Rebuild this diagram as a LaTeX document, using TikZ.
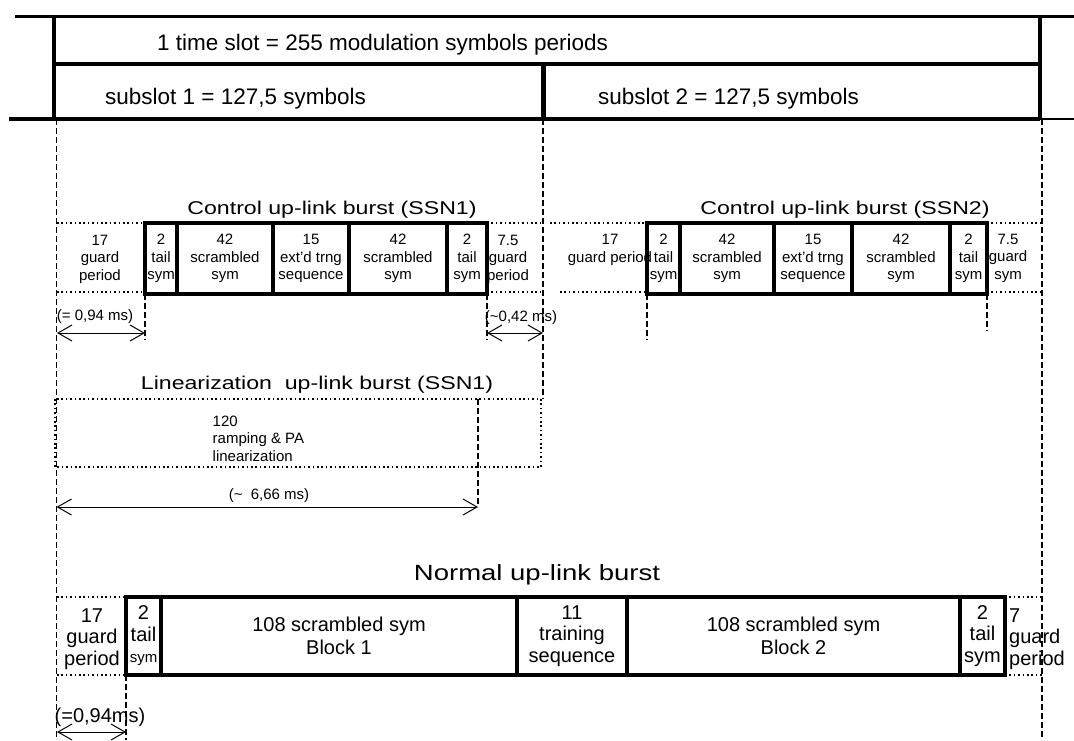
\documentclass[tikz,border=0pt]{standalone}
\usepackage{fontspec}
\setmainfont{Liberation Sans}
\newfontfamily\widefont[FakeStretch=1.25]{Liberation Sans}
\usetikzlibrary{arrows.meta}
\begin{document}
\begin{tikzpicture}[x=1pt,y=-1pt,
slotline/.style={line width=3.5},
vline/.style={line width=1.2,dash pattern=on 6pt off 3pt},
gline/.style={line width=1.6,dash pattern=on 1.6pt off 2.8pt},
dim/.style={line width=1,{Straight Barb[length=14pt,width=16pt]}-{Straight Barb[length=14pt,width=16pt]}},
big/.style={inner sep=0,font=\fontsize{22.5}{27}\selectfont},
ttl/.style={inner sep=0,font=\widefont\fontsize{18.5}{22}\selectfont},
small/.style={inner sep=0,align=center,font=\fontsize{15}{17.5}\selectfont},
nrm/.style={inner sep=0,align=center,font=\fontsize{20}{21.5}\selectfont},
cell/.style={draw,line width=4,inner sep=0,minimum height=71,align=center,font=\fontsize{15}{17.5}\selectfont},
ncell/.style={draw,line width=3.5,inner sep=0,minimum height=78,align=center,font=\fontsize{20}{21.5}\selectfont}]
\useasboundingbox (0,0) rectangle (1074,740);
\draw[slotline](15,16.5)--(1074,16.5);\draw[slotline](54,16.5)--(54,119);\draw[slotline](1040,16.5)--(1040,119);
\draw[slotline](54,64)--(1040,64);\draw[line width=5](543,64)--(543,119);
\draw[slotline](9,119)--(1040,119);\draw[line width=1.5](1040,119)--(1074,119);
\node[big,anchor=west](ts) at(157,45){1 time slot = 255 modulation symbols periods};
\node[big,anchor=west](ss1) at(105,99){subslot 1 = 127,5 symbols};
\node[big,anchor=west](ss2) at(598,99){subslot 2 = 127,5 symbols};
\draw[vline](56.5,119)--(56.5,740);\draw[vline](543,119)--(543,399);\draw[vline](1042,119)--(1042,740);
\foreach \a/\b/\t [count=\k] in {145/177/{2\\tail\\sym},177/273/{42\\scrambled\\sym},273/349/{15\\ext'd trng\\sequence},349/447/{42\\scrambled\\sym},447/487/{2\\tail\\sym}}
  \node[cell,minimum width=\b-\a](a\k) at({(\a+\b)/2},258.5){\t};
\foreach \a/\b/\t [count=\k] in {647/680/{2\\tail\\sym},680/774/{42\\scrambled\\sym},774/852/{15\\ext'd trng\\sequence},852/950/{42\\scrambled\\sym},950/987/{2\\tail\\sym}}
  \node[cell,minimum width=\b-\a](b\k) at({(\a+\b)/2},258.5){\t};
\node[ttl](t1) at(332,210){Control up-link burst (SSN1)};\node[ttl](t2) at(845,210){Control up-link burst (SSN2)};
\node[small](ga1) at(100,259){17\\guard\\period};\node[small](gb1) at(508,259){7.5\\guard\\period};
\node[small](ga2) at(610,250){17\\guard period};\node[small](gb2) at(1008,258){7.5\\guard\\sym};
\draw[gline](57,223)--(145,223) (57,292)--(145,292) (487,223)--(543,223) (487,292)--(543,292);
\draw[gline](550,223)--(647,223) (560,292)--(647,292) (987,223)--(1042,223) (987,292)--(1042,292);
\draw[vline](145,294)--(145,340);\draw[vline](487,294)--(487,340);\draw[vline](647,294)--(647,340);\draw[vline](987,294)--(987,331);
\coordinate(l1) at(57,333);\coordinate(r1) at(145,333);\draw[dim](l1)--(r1);
\coordinate(l2) at(487,333);\coordinate(r2) at(543,333);\draw[dim](l2)--(r2);
\node[small](d1) at(95,317){(= 0,94 ms)};\node[small](d2) at(521,318){(\textasciitilde0,42 ms)};
\node[ttl](t3) at(317,385){Linearization\ \ up-link burst (SSN1)};
\draw[gline](55,399) rectangle (541,467);
\node[small,align=left,anchor=west](lin) at(212.5,438.5){120\\ramping \& PA\\linearization};
\draw[vline](478,399)--(478,507);
\coordinate(l3) at(56.5,507);\coordinate(r3) at(478,507);\draw[dim](l3)--(r3);
\node[small](d3) at(269,496){(\textasciitilde\ \ 6,66 ms)};
\node[ttl,font=\widefont\fontsize{22}{26}\selectfont](t4) at(537,575){Normal up-link burst};
\foreach \a/\b/\t [count=\k] in {126/161/{2\\tail\\{\fontsize{15}{17}\selectfont sym}},161/517/{108 scrambled sym\\[2pt]Block 1},517/627/{11\\training\\sequence},627/960/{108 scrambled sym\\[2pt]Block 2},960/1005/{2\\tail\\sym}}
  \node[ncell,minimum width=\b-\a](n\k) at({(\a+\b)/2},636){\t};
\node[nrm](ga3) at(92,639){17\\guard\\period};\node[nrm,align=left,anchor=west](gb3) at(1009,639){7\\guard\\period};
\draw[gline](57,597)--(126,597) (57,675)--(126,675) (1005,597)--(1042,597) (1005,675)--(1042,675);
\draw[vline](126,675)--(126,740);
\coordinate(l4) at(57,732);\coordinate(r4) at(126,732);\draw[dim](l4)--(r4);
\node[nrm](d4) at(100,717){(=0,94ms)};
\end{tikzpicture}
\end{document}
